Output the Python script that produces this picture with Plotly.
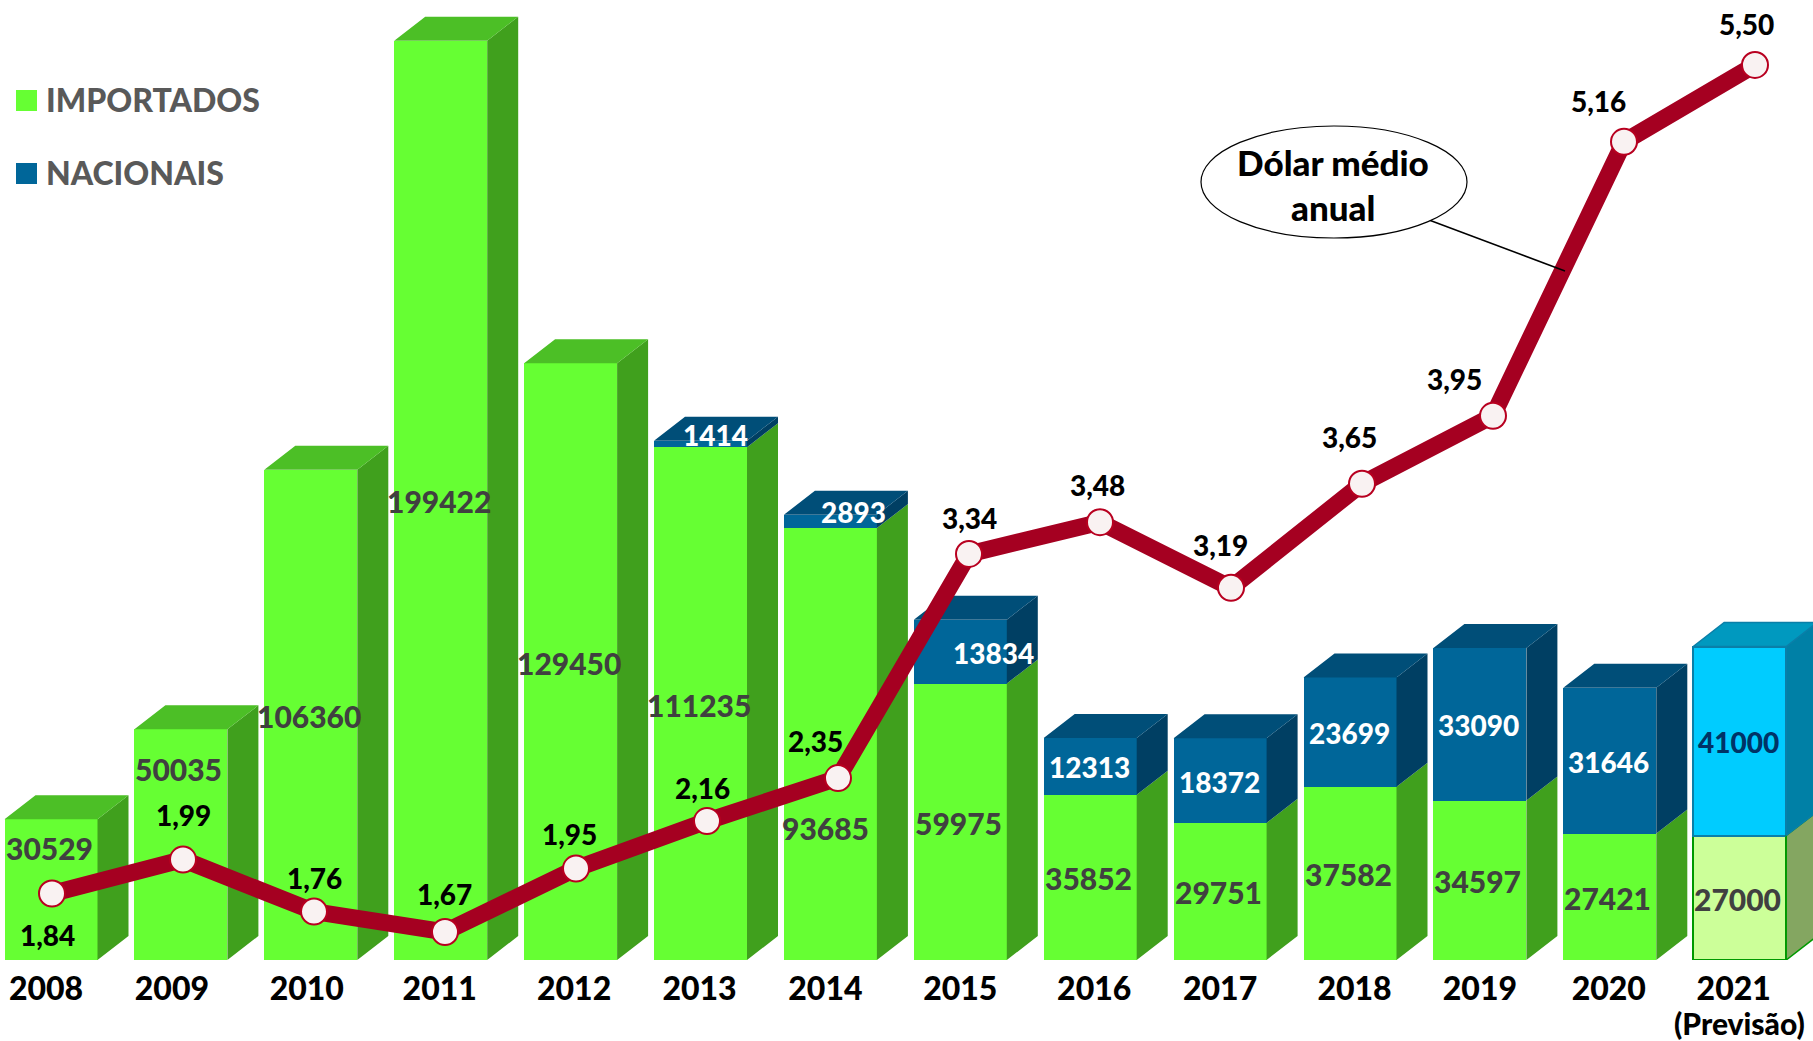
import plotly.graph_objects as go

anos = ["2008","2009","2010","2011","2012","2013","2014","2015","2016","2017","2018","2019","2020","2021"]
importados = [30529,50035,106360,199422,129450,111235,93685,59975,35852,29751,37582,34597,27421,27000]
nacionais = [0,0,0,0,0,1414,2893,13834,12313,18372,23699,33090,31646,41000]
dolar = [1.84,1.99,1.76,1.67,1.95,2.16,2.35,3.34,3.48,3.19,3.65,3.95,5.16,5.50]

W, H = 1813, 1041
BASE = 960            # pixel row of the bars' base
PX_X = 129.9          # pixels per category
PX_Y = 0.00461        # pixels per unit of the bar scale
X0 = 51               # pixel of first bar centre
HW = 46.5 / PX_X      # half bar width
DX = 31 / PX_X        # 3D depth
DY = 24 / PX_Y

GREEN, GREEN_S, GREEN_T = "#66FF33", "#40A01D", "#4CBF26"
BLUE, BLUE_S, BLUE_T = "#006699", "#003F63", "#004E78"
CYAN, CYAN_S, CYAN_T = "#00CCFF", "#0080A6", "#0099BF"
PALE, PALE_S = "#CCFF99", "#84A661"
RED = "#A50021"
DARK = "#404040"
FONT = "Lato"
n = len(anos)
idx = list(range(n))


def px(x):
    return x / W


def py(y):
    return 1 - y / BASE


def side(i, a, b):
    return ([i+HW, i+HW+DX, i+HW+DX, i+HW, i+HW, None], [a, a+DY, b+DY, b, a, None])


def top(i, v):
    return ([i-HW, i+HW, i+HW+DX, i-HW+DX, i-HW, None], [v, v, v+DY, v+DY, v, None])


def faces(items, color, line=None):
    xs, ys = [], []
    for x, y in items:
        xs += x
        ys += y
    return go.Scatter(x=xs, y=ys, mode="lines", fill="toself", fillcolor=color,
                      line=dict(color=line or color, width=1.5 if line else 0),
                      hoverinfo="skip", showlegend=False)


fig = go.Figure()
fig.add_bar(x=idx, y=importados, width=2*HW, name="IMPORTADOS",
            marker=dict(color=[GREEN]*(n-1)+[PALE],
                        line=dict(color=["rgba(0,0,0,0)"]*(n-1)+["#009900"], width=[0]*(n-1)+[2])))
fig.add_bar(x=idx, y=nacionais, width=2*HW, name="NACIONAIS",
            marker=dict(color=[BLUE]*(n-1)+[CYAN],
                        line=dict(color=["rgba(0,0,0,0)"]*(n-1)+["#0A7FA8"], width=[0]*(n-1)+[2])))

rng = range(n-1)
fig.add_trace(faces([side(i, 0, importados[i]) for i in rng], GREEN_S))
fig.add_trace(faces([side(i, importados[i], importados[i]+nacionais[i]) for i in rng if nacionais[i]], BLUE_S))
fig.add_trace(faces([top(i, importados[i]) for i in rng if not nacionais[i]], GREEN_T))
fig.add_trace(faces([top(i, importados[i]+nacionais[i]) for i in rng if nacionais[i]], BLUE_T))
last = n-1
fig.add_trace(faces([side(last, 0, importados[last])], PALE_S, "#009900"))
fig.add_trace(faces([side(last, importados[last], importados[last]+nacionais[last])], CYAN_S, "#0A7FA8"))
fig.add_trace(faces([top(last, importados[last]+nacionais[last])], CYAN_T, "#0A7FA8"))

fig.add_trace(go.Scatter(x=idx, y=dolar, xaxis="x2", yaxis="y2", mode="lines+markers",
                         line=dict(color=RED, width=17),
                         marker=dict(size=26, color="#F9F2F2", line=dict(color="#B80020", width=2)),
                         name="Dólar médio anual", showlegend=False))

ann = []
# (x pixel shift, y pixel shift downward) for labels moved away from the segment centre
green_shift = {0: (-2, -42), 1: (-2, -76), 6: (-5, 84)}
blue_shift = {5: (15, -9), 6: (23, -9), 7: (33, 1)}
for i in idx:
    sx, sy = green_shift.get(i, (-2, 1))
    ann.append(dict(x=i, y=importados[i]/2, xref="x", yref="y", text=str(importados[i]),
                    showarrow=False, xshift=sx, yshift=-sy, xanchor="center", yanchor="middle",
                    font=dict(family=FONT, size=30, color=DARK, weight=900)))
    if nacionais[i]:
        sx, sy = blue_shift.get(i, (-1, 1))
        ann.append(dict(x=i, y=importados[i]+nacionais[i]/2, xref="x", yref="y", text=str(nacionais[i]),
                        showarrow=False, xshift=sx, yshift=-sy, xanchor="center", yanchor="middle",
                        font=dict(family=FONT, size=28, weight=900,
                                  color="#003366" if i == last else "white")))

usd_shift = [(-5,41),(0,-45),(0,-34),(-1,-38),(-7,-35),(-5,-33),(-23,-37),(0,-36),(-3,-37),(-11,-43),(-13,-47),(-39,-37),(-26,-41),(-9,-41)]
for i in idx:
    ann.append(dict(x=i, y=dolar[i], xref="x2", yref="y2", text=f"{dolar[i]:.2f}".replace(".", ","),
                    showarrow=False, xshift=usd_shift[i][0], yshift=-usd_shift[i][1],
                    xanchor="center", yanchor="middle",
                    font=dict(family=FONT, size=28, color="black", weight=900)))

for text, cx, cy, size in (("(Previsão)", 1739, 1023, 30), ("Dólar médio", 1333, 162, 35), ("anual", 1333, 207, 35)):
    ann.append(dict(x=px(cx), y=py(cy), xref="paper", yref="paper", text=text, showarrow=False,
                    xanchor="center", yanchor="middle",
                    font=dict(family=FONT, size=size, color="black", weight=900)))
for label, ly in (("IMPORTADOS", 100), ("NACIONAIS", 173)):
    ann.append(dict(x=px(44), y=py(ly), xref="paper", yref="paper", xanchor="left", yanchor="middle",
                    text=label, showarrow=False,
                    font=dict(family=FONT, size=32, color="#595959", weight=900)))

shapes = [
    dict(type="rect", xref="paper", yref="paper", x0=px(16), x1=px(37), y0=py(90), y1=py(111),
         fillcolor=GREEN, line_width=0),
    dict(type="rect", xref="paper", yref="paper", x0=px(16), x1=px(37), y0=py(163), y1=py(184),
         fillcolor=BLUE, line_width=0),
    dict(type="line", xref="paper", yref="paper", x0=px(1429), y0=py(220), x1=px(1565), y1=py(271),
         line=dict(color="black", width=1.5)),
    dict(type="circle", xref="paper", yref="paper", x0=px(1201), x1=px(1467), y0=py(126), y1=py(238),
         fillcolor="white", line=dict(color="black", width=1.2), layer="above"),
]

tick_shift = [-5,-9,-4,-1,3.5,-1,-5,0,4,0,4.5,0,-1,-6]
fig.update_layout(
    width=W, height=H, autosize=False, barmode="stack", bargap=0, showlegend=False,
    margin=dict(l=0, r=0, t=0, b=H-BASE), paper_bgcolor="white", plot_bgcolor="white",
    annotations=ann, shapes=shapes,
    xaxis=dict(range=[-X0/PX_X, (W-X0)/PX_X], tickvals=[i+s/PX_X for i, s in zip(idx, tick_shift)],
               ticktext=anos, showgrid=False, zeroline=False, showline=False,
               ticks="outside", ticklen=1, tickcolor="rgba(0,0,0,0)",
               tickfont=dict(family=FONT, size=32, color="black", weight=900)),
    yaxis=dict(range=[0, BASE/PX_Y], visible=False),
    xaxis2=dict(range=[-52/131, (W-52)/131], overlaying="x", anchor="y2", visible=False),
    yaxis2=dict(range=[1.67-(BASE-932)/226.4, 1.67+932/226.4], overlaying="y", anchor="x2", visible=False),
)
fig.write_html("out.html", post_script="document.body.style.margin='0';", config=dict(displayModeBar=False))
